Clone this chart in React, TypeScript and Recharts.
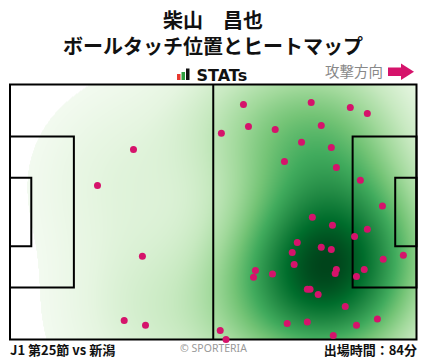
import React, { useMemo } from 'react';
import { ScatterChart, Scatter, XAxis, YAxis, ReferenceArea, ReferenceLine } from 'recharts';

// Touch positions on a 105 x 68 pitch (x: own goal -> attacking goal, y: from top touchline)
const touchX = [
  31.9, 22.6, 34.2, 29.5, 35.0,
  60.3, 77.8, 87.9, 92.3, 54.6, 61.6, 68.5, 80.4, 75.3, 83.0, 70.9, 84.3, 90.5, 96.2,
  78.1, 83.3, 92.3, 89.0, 74.2, 80.4, 83.0, 72.9, 73.4, 63.4, 62.9, 67.8, 84.3, 84.0,
  91.5, 89.5, 96.4, 101.6, 76.8, 77.5, 79.6, 86.6, 94.9, 71.6, 76.8, 89.5, 83.5, 54.3, 55.8,
];
const touchY = [
  17.3, 26.9, 45.8, 62.9, 64.2,
  5.3, 4.8, 6.1, 7.7, 13.0, 11.2, 12.0, 10.9, 15.4, 16.8, 20.5, 22.1, 25.5, 32.4,
  35.4, 37.5, 38.6, 40.5, 42.1, 43.4, 44.0, 44.8, 48.0, 49.6, 51.4, 50.5, 49.3, 50.4,
  49.3, 51.2, 46.6, 45.5, 54.6, 54.6, 56.0, 59.2, 62.5, 63.7, 63.3, 64.2, 66.9, 65.6, 68.0,
];

const pitchLength = 105;
const pitchWidth = 68;
const penaltyDepth = 16.5;
const penaltyWidth = 40.32;
const goalAreaDepth = 5.5;
const goalAreaWidth = 18.32;

const titleLines = ['柴山　昌也', 'ボールタッチ位置とヒートマップ'];
const matchLabel = 'J1 第25節 vs 新潟';
const minutesLabel = '出場時間：84分';
const directionLabel = '攻撃方向';
const creditLabel = '© SPORTERIA';

const greens = [
  [247, 252, 245], [229, 245, 224], [199, 233, 192], [161, 217, 155], [116, 196, 118],
  [65, 171, 93], [35, 139, 69], [0, 109, 44], [0, 68, 27],
];

function cmap(t: number): number[] {
  const v = Math.max(0, Math.min(1, t)) * (greens.length - 1);
  const i = Math.min(greens.length - 2, Math.floor(v));
  const f = v - i;
  return greens[i].map((c, k) => c + (greens[i + 1][k] - c) * f);
}

function buildHeat(): string {
  const n = touchX.length;
  const mx = touchX.reduce((a, b) => a + b, 0) / n;
  const my = touchY.reduce((a, b) => a + b, 0) / n;
  let sxx = 0, syy = 0, sxy = 0;
  for (let i = 0; i < n; i++) {
    const dx = touchX[i] - mx, dy = touchY[i] - my;
    sxx += dx * dx; syy += dy * dy; sxy += dx * dy;
  }
  sxx /= n - 1; syy /= n - 1; sxy /= n - 1;
  const f = Math.pow(n, -1 / 6) * 1.4;
  const cxx = sxx * f * f, cyy = syy * f * f, cxy = sxy * f * f;
  const det = cxx * cyy - cxy * cxy;
  const ixx = cyy / det, iyy = cxx / det, ixy = -cxy / det;
  const dens = (x: number, y: number) => {
    let s = 0;
    for (let i = 0; i < n; i++) {
      const dx = x - touchX[i], dy = y - touchY[i];
      s += Math.exp(-0.5 * (dx * dx * ixx + 2 * dx * dy * ixy + dy * dy * iyy));
    }
    return s;
  };
  const bx = Math.sqrt(cxx), by = Math.sqrt(cyy);
  const x0 = Math.min(...touchX) - 3 * bx, x1 = Math.max(...touchX) + 3 * bx;
  const y0 = Math.min(...touchY) - 3 * by, y1 = Math.max(...touchY) + 3 * by;
  const G = 150;
  const vals: number[] = [];
  for (let i = 0; i < G; i++) for (let j = 0; j < G; j++) {
    vals.push(dens(x0 + (x1 - x0) * i / (G - 1), y0 + (y1 - y0) * j / (G - 1)));
  }
  vals.sort((a, b) => a - b);
  const total = vals.reduce((a, b) => a + b, 0);
  let cum = 0, thr = 0;
  for (const v of vals) { cum += v; if (cum / total >= 0.025) { thr = v; break; } }
  const vmax = vals[vals.length - 1];
  const W = 406, H = 255;
  const canvas = document.createElement('canvas');
  canvas.width = W; canvas.height = H;
  const ctx = canvas.getContext('2d');
  if (!ctx) return '';
  const img = ctx.createImageData(W, H);
  for (let j = 0; j < H; j++) for (let i = 0; i < W; i++) {
    const d = dens((i + 0.5) / W * pitchLength, (j + 0.5) / H * pitchWidth);
    const p = (j * W + i) * 4;
    if (d < thr) { img.data[p] = 255; img.data[p + 1] = 255; img.data[p + 2] = 255; img.data[p + 3] = 255; continue; }
    const c = cmap(0.03 + 0.97 * Math.pow((d - thr) / (vmax - thr), 0.9));
    img.data[p] = c[0]; img.data[p + 1] = c[1]; img.data[p + 2] = c[2]; img.data[p + 3] = 255;
  }
  ctx.putImageData(img, 0, 0);
  return canvas.toDataURL();
}

const lineProps = { fill: 'none', stroke: '#000', strokeWidth: 2, fillOpacity: 0, strokeOpacity: 1 };

export default function App() {
  const heatUrl = useMemo(() => buildHeat(), []);
  const data = touchX.map((x, i) => ({ x, y: touchY[i] }));
  const pyTop = (pitchWidth - penaltyWidth) / 2;
  const gyTop = (pitchWidth - goalAreaWidth) / 2;
  return (
    <div style={{ position: 'absolute', left: 0, top: 0, width: 428, height: 359, background: '#fff', overflow: 'hidden' }}>
      <ScatterChart width={428} height={359} margin={{ top: 84.5, right: 11.5, bottom: 19.5, left: 10 }}>
        <XAxis type="number" dataKey="x" domain={[0, pitchLength]} hide />
        <YAxis type="number" dataKey="y" domain={[0, pitchWidth]} reversed hide />
        <ReferenceArea
          x1={0} x2={pitchLength} y1={0} y2={pitchWidth}
          shape={(p: any) => (
            <image x={p.x} y={p.y} width={p.width} height={p.height} href={heatUrl} preserveAspectRatio="none" />
          )}
        />
        <Scatter
          data={data}
          isAnimationActive={false}
          shape={(p: any) => <circle cx={p.cx} cy={p.cy} r={3.5} fill="#d5136b" />}
        />
        <ReferenceArea x1={0} x2={penaltyDepth} y1={pyTop} y2={pyTop + penaltyWidth} {...lineProps} />
        <ReferenceArea x1={0} x2={goalAreaDepth} y1={gyTop} y2={gyTop + goalAreaWidth} {...lineProps} />
        <ReferenceArea x1={pitchLength - penaltyDepth} x2={pitchLength} y1={pyTop} y2={pyTop + penaltyWidth} {...lineProps} />
        <ReferenceArea x1={pitchLength - goalAreaDepth} x2={pitchLength} y1={gyTop} y2={gyTop + goalAreaWidth} {...lineProps} />
        <ReferenceLine x={pitchLength / 2} stroke="#000" strokeWidth={2} />
        <ReferenceArea x1={0} x2={pitchLength} y1={0} y2={pitchWidth} {...lineProps} />
      </ScatterChart>
      <svg width={428} height={359} style={{ position: 'absolute', left: 0, top: 0, pointerEvents: 'none' }}>
        <text x={213} y={27.5} textAnchor="middle" fontFamily="'Noto Sans CJK JP', sans-serif" fontWeight={700} fontSize={20} fill="#111">{titleLines[0]}</text>
        <text x={213} y={54} textAnchor="middle" fontFamily="'Noto Sans CJK JP', sans-serif" fontWeight={700} fontSize={20} fill="#111">{titleLines[1]}</text>
        <rect x={177} y={74} width={3.5} height={6} fill="#e8382f" />
        <rect x={181.5} y={72} width={3.5} height={8} fill="#2f9e3f" />
        <rect x={186} y={68.5} width={3.5} height={11.5} fill="#111" />
        <text x={196.5} y={80.5} fontFamily="'DejaVu Sans', sans-serif" fontWeight={700} fontSize={16} fill="#111">STATs</text>
        <text x={325} y={77} fontFamily="'Noto Sans CJK JP', sans-serif" fontSize={14.5} fill="#888">{directionLabel}</text>
        <rect x={388} y={67.5} width={15} height={8.5} fill="#d5136b" />
        <polygon points="401,63.5 414,71.75 401,80" fill="#d5136b" />
        <text x={10} y={354.5} fontFamily="'Noto Sans CJK JP', sans-serif" fontWeight={700} fontSize={13} fill="#111">{matchLabel}</text>
        <text x={213.5} y={352} textAnchor="middle" fontFamily="'Noto Sans', sans-serif" fontSize={10.5} fill="#999">{creditLabel}</text>
        <text x={417} y={354.5} textAnchor="end" fontFamily="'Noto Sans CJK JP', sans-serif" fontWeight={700} fontSize={13} fill="#111">{minutesLabel}</text>
      </svg>
    </div>
  );
}
